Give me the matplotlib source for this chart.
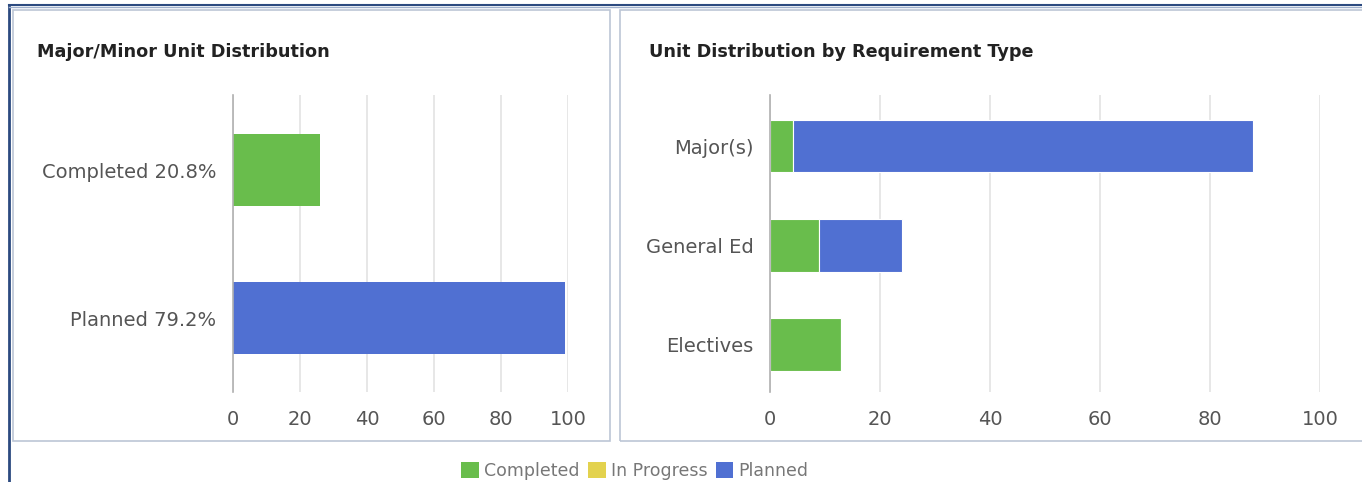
import matplotlib
matplotlib.use('Agg')
from matplotlib import pyplot as plt
from matplotlib.patches import Rectangle, Patch
from matplotlib.lines import Line2D

# data
mm_labels = ['Completed 20.8%', 'Planned 79.2%']
mm_values = [26, 99]
req_types = ['Major(s)', 'General Ed', 'Electives']
req_completed = [4.1, 8.9, 13.0]
req_in_progress = [0, 0, 0]
req_planned = [83.7, 15.1, 0]
x_ticks = [0, 20, 40, 60, 80, 100]
legend_names = ['Completed', 'In Progress', 'Planned']

GREEN = '#69bd4c'
YELLOW = '#e3d24e'
BLUE = '#5070d2'
GRID = '#e3e3e3'
TICK = '#555555'

W, H = 1362, 482
fig = plt.figure(figsize=(W / 100, H / 100), dpi=100)
fig.patch.set_facecolor('white')


def fx(px):
    return px / W


def fy(py):
    return 1 - py / H


# outer frame lines
fig.add_artist(Line2D([fx(9), fx(9)], [fy(5), 0], color='#2c4a80', lw=2))
fig.add_artist(Line2D([fx(9), 1], [fy(5), fy(5)], color='#2c4a80', lw=1.5))
fig.add_artist(Line2D([fx(9), 1], [fy(7), fy(7)], color='#9fb0cc', lw=1))

# panel boxes
fig.add_artist(Rectangle((fx(13), fy(441)), fx(610 - 13), (441 - 10) / H,
                         fill=False, ec='#bcc6d6', lw=1.2))
fig.add_artist(Rectangle((fx(620), fy(441)), fx(1375 - 620), (441 - 10) / H,
                         fill=False, ec='#bcc6d6', lw=1.2))

fig.text(fx(37), fy(52), 'Major/Minor Unit Distribution', fontsize=12.7,
         fontweight='bold', color='#222222', va='center', ha='left')
fig.text(fx(649), fy(52), 'Unit Distribution by Requirement Type', fontsize=12.7,
         fontweight='bold', color='#222222', va='center', ha='left')


def style(ax, ylim):
    ax.set_xlim(0, 100)
    ax.set_ylim(*ylim)
    ax.set_xticks(x_ticks)
    ax.grid(axis='x', color=GRID, lw=1.2)
    ax.set_axisbelow(True)
    for s in ['top', 'right', 'bottom']:
        ax.spines[s].set_visible(False)
    ax.spines['left'].set_color('#b0b0b0')
    ax.spines['left'].set_linewidth(1.2)
    ax.tick_params(axis='both', length=0, labelsize=14, labelcolor=TICK)
    ax.tick_params(axis='x', pad=13)
    ax.tick_params(axis='y', pad=12)


ax1 = fig.add_axes([fx(233), fy(392), fx(568 - 233), (392 - 95) / H])
ax1.barh(range(len(mm_labels)), mm_values, height=0.49,
         color=[GREEN, BLUE], edgecolor='none')
ax1.set_yticks(range(len(mm_labels)))
ax1.set_yticklabels(mm_labels)
style(ax1, (1.5, -0.507))

ax2 = fig.add_axes([fx(770), fy(392), fx(1320 - 770), (392 - 95) / H])
pos = range(len(req_types))
ax2.barh(pos, req_completed, height=0.53, color=GREEN, edgecolor='white', lw=0.8)
left2 = [a + b for a, b in zip(req_completed, req_in_progress)]
ax2.barh(pos, req_in_progress, left=req_completed, height=0.53, color=YELLOW,
         edgecolor='none')
ax2.barh(pos, req_planned, left=left2, height=0.53, color=BLUE,
         edgecolor='white', lw=0.8)
ax2.set_yticks(list(pos))
ax2.set_yticklabels(req_types)
style(ax2, (2.48, -0.515))

handles = [Patch(facecolor=c, edgecolor='none') for c in [GREEN, YELLOW, BLUE]]
fig.legend(handles, legend_names, loc='center', bbox_to_anchor=(fx(635), fy(471)),
           ncol=3, frameon=False, fontsize=12.5, handlelength=1.0, handleheight=1.0,
           handletextpad=0.3, columnspacing=0.5, labelcolor='#777777',
           borderaxespad=0, borderpad=0)

fig.savefig('out.png', dpi=100, facecolor='white')
